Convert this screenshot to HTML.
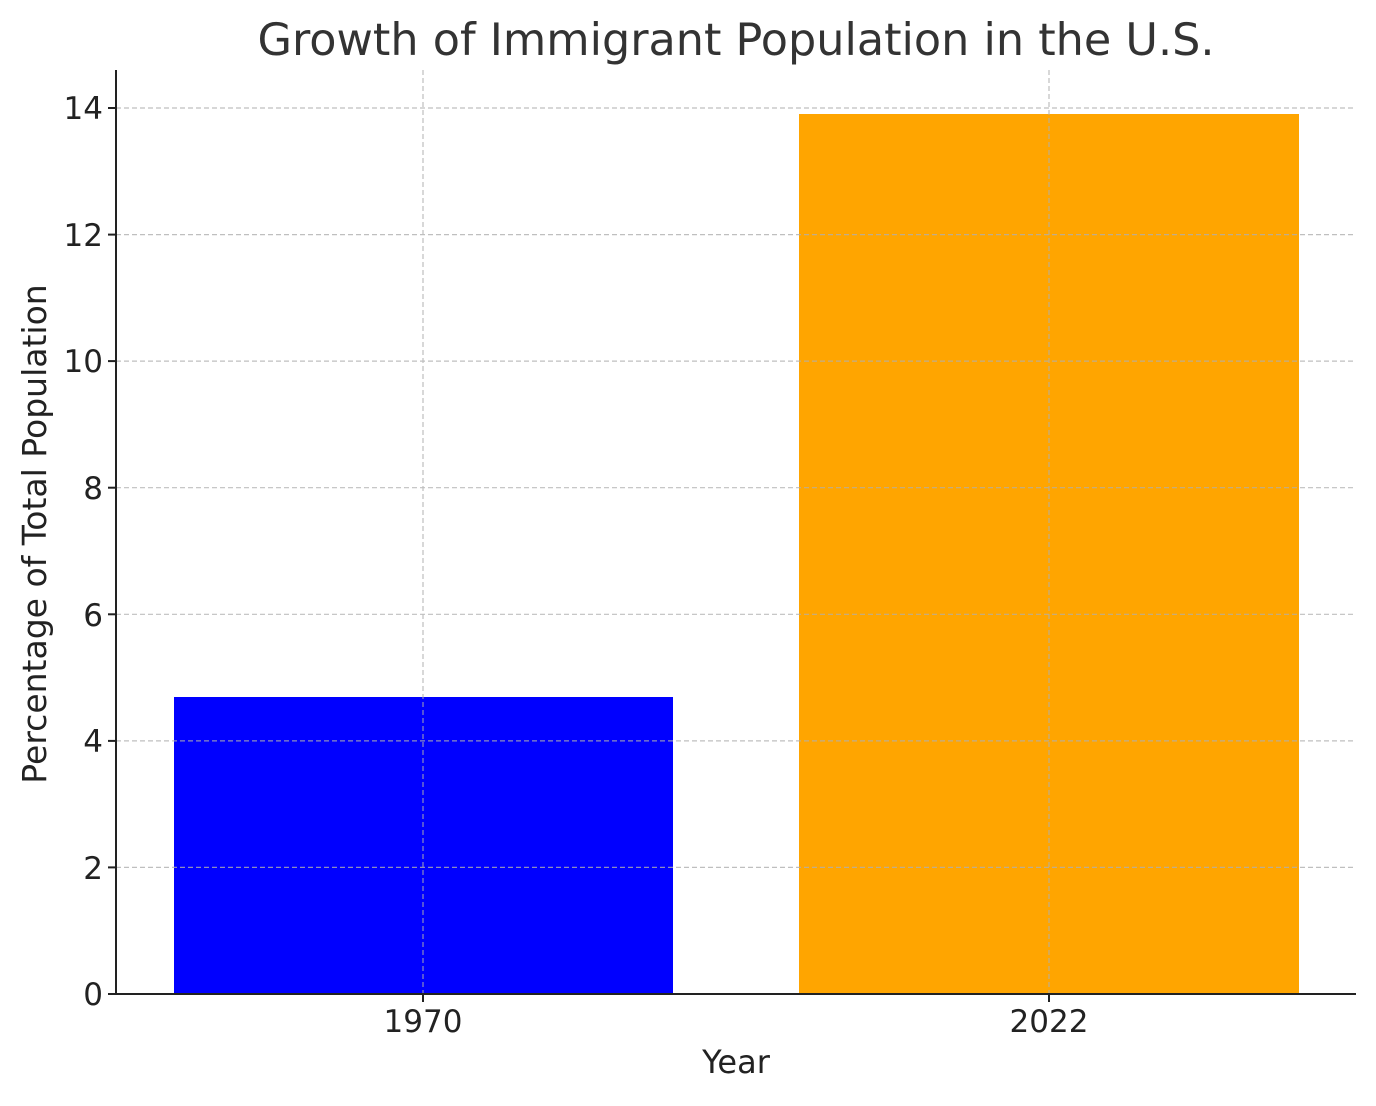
<!DOCTYPE html>
<html><head><meta charset="utf-8"><style>body{margin:0;background:#fff}</style></head><body>
<svg width="1376" height="1101" xmlns="http://www.w3.org/2000/svg" font-family="DejaVu Sans, Liberation Sans, sans-serif">
<rect width="1376" height="1101" fill="#fff"/>
<rect x="174" y="697" width="499" height="297" fill="#0000ff"/>
<rect x="799" y="114" width="500" height="880" fill="#ffa500"/>
<g stroke="#b0b0b0" stroke-width="1.2" stroke-dasharray="5,3" opacity="0.8">
<line x1="116" x2="1356" y1="867.4" y2="867.4"/>
<line x1="116" x2="1356" y1="740.9" y2="740.9"/>
<line x1="116" x2="1356" y1="614.3" y2="614.3"/>
<line x1="116" x2="1356" y1="487.7" y2="487.7"/>
<line x1="116" x2="1356" y1="361.1" y2="361.1"/>
<line x1="116" x2="1356" y1="234.6" y2="234.6"/>
<line x1="116" x2="1356" y1="108" y2="108"/>
<line x1="423" x2="423" y1="70" y2="994"/>
<line x1="1049" x2="1049" y1="70" y2="994"/>
</g>
<g stroke="#222" stroke-width="2">
<line x1="116" y1="70" x2="116" y2="995"/>
<line x1="115" y1="994" x2="1356" y2="994"/>
<line x1="108" x2="116" y1="994" y2="994"/><line x1="108" x2="116" y1="867.4" y2="867.4"/>
<line x1="108" x2="116" y1="740.9" y2="740.9"/><line x1="108" x2="116" y1="614.3" y2="614.3"/>
<line x1="108" x2="116" y1="487.7" y2="487.7"/><line x1="108" x2="116" y1="361.1" y2="361.1"/>
<line x1="108" x2="116" y1="234.6" y2="234.6"/><line x1="108" x2="116" y1="108" y2="108"/>
<line x1="423" x2="423" y1="994" y2="1002"/><line x1="1049" x2="1049" y1="994" y2="1002"/>
</g>
<g font-size="31" fill="#222" text-anchor="end">
<text x="103" y="1005">0</text><text x="103" y="879">2</text><text x="103" y="752">4</text>
<text x="103" y="626">6</text><text x="103" y="499">8</text><text x="103" y="372">10</text>
<text x="103" y="246">12</text><text x="103" y="119">14</text>
</g>
<g font-size="31" fill="#222" text-anchor="middle">
<text x="423" y="1032">1970</text><text x="1049" y="1032">2022</text>
<text x="736" y="1073" font-size="32">Year</text>
<text transform="translate(46,534) rotate(-90)" font-size="33">Percentage of Total Population</text>
</g>
<text x="736" y="55" font-size="44.5" fill="#333" text-anchor="middle">Growth of Immigrant Population in the U.S.</text>
</svg>
</body></html>
